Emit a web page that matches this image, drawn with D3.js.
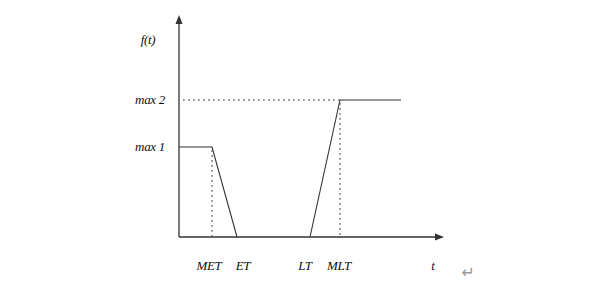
<!DOCTYPE html>
<html><head><meta charset="utf-8">
<script src="https://cdn.jsdelivr.net/npm/d3@7"></script>
<style>body{margin:0;background:#fff}text{font-family:"Liberation Serif","Times New Roman",serif;font-style:italic;font-size:13px;fill:#111;letter-spacing:-0.3px}</style>
</head><body><svg id="c" width="603" height="288"></svg>
<script>
// time points (arbitrary units along t)
const tNames = ["MET", "ET", "LT", "MLT"];
const tValues = [33, 58, 131, 161];
const tLabelAt = [30, 64, 126, 160];
const tEnd = 222;
const tMax = 265;
const tAxisLabel = "t";
// levels
const levelNames = ["max 1", "max 2"];
const levelValues = [90, 137];
const yMax = 222;
const yAxisLabel = "f(t)";
// function shape: (t, f)
const curveEarly = [[0, 90], [33, 90], [58, 0]];
const curveLate = [[131, 0], [161, 137], [222, 137]];

const svg = d3.select("#c");
const x = d3.scaleLinear().domain([0, tMax]).range([179, 444]);
const y = d3.scaleLinear().domain([0, yMax]).range([237, 15]);
const ink = "#333";

// axes
svg.append("line").attr("x1", x(0)).attr("x2", x(tMax) - 7).attr("y1", y(0)).attr("y2", y(0)).attr("stroke", ink).attr("stroke-width", 1.3);
svg.append("line").attr("x1", x(0)).attr("x2", x(0)).attr("y1", y(0)).attr("y2", y(yMax) + 7).attr("stroke", ink).attr("stroke-width", 1.3);
svg.append("path").attr("d", `M${x(tMax)},${y(0)} l-9,-3.5 l0,7 z`).attr("fill", ink);
svg.append("path").attr("d", `M${x(0)},${y(yMax)} l-3.5,9 l7,0 z`).attr("fill", ink);

// dotted guides
const dot = "1.8,3.2";
svg.append("line").attr("x1", x(4)).attr("x2", x(161)).attr("y1", y(137)).attr("y2", y(137)).attr("stroke", ink).attr("stroke-dasharray", dot);
svg.append("line").attr("x1", x(tValues[0])).attr("x2", x(tValues[0])).attr("y1", y(levelValues[0]) + 3).attr("y2", y(0)).attr("stroke", ink).attr("stroke-dasharray", dot);
svg.append("line").attr("x1", x(tValues[3])).attr("x2", x(tValues[3])).attr("y1", y(levelValues[1]) + 3).attr("y2", y(0)).attr("stroke", ink).attr("stroke-dasharray", dot);

// curve
const line = d3.line().x(d => x(d[0])).y(d => y(d[1]));
[curveEarly, curveLate].forEach(c => svg.append("path").attr("d", line(c)).attr("fill", "none").attr("stroke", ink).attr("stroke-width", 1.1));

// labels
svg.selectAll("text.tl").data(tNames).enter().append("text")
  .attr("x", (d, i) => x(tLabelAt[i])).attr("y", 270).attr("text-anchor", "middle").text(d => d);
svg.append("text").attr("x", x(254)).attr("y", 270).attr("text-anchor", "middle").text(tAxisLabel);
svg.selectAll("text.yl").data(levelNames).enter().append("text")
  .attr("x", 165).attr("y", (d, i) => y(levelValues[i]) + 4).attr("text-anchor", "end").text(d => d);
svg.append("text").attr("x", 148).attr("y", 44).attr("text-anchor", "middle").text(yAxisLabel);
svg.append("text").attr("x", 468).attr("y", 278).attr("text-anchor", "middle").style("font-style", "normal").style("fill", "#999").style("font-family", "DejaVu Sans").style("font-size", "16px").text("↵");
</script></body></html>
